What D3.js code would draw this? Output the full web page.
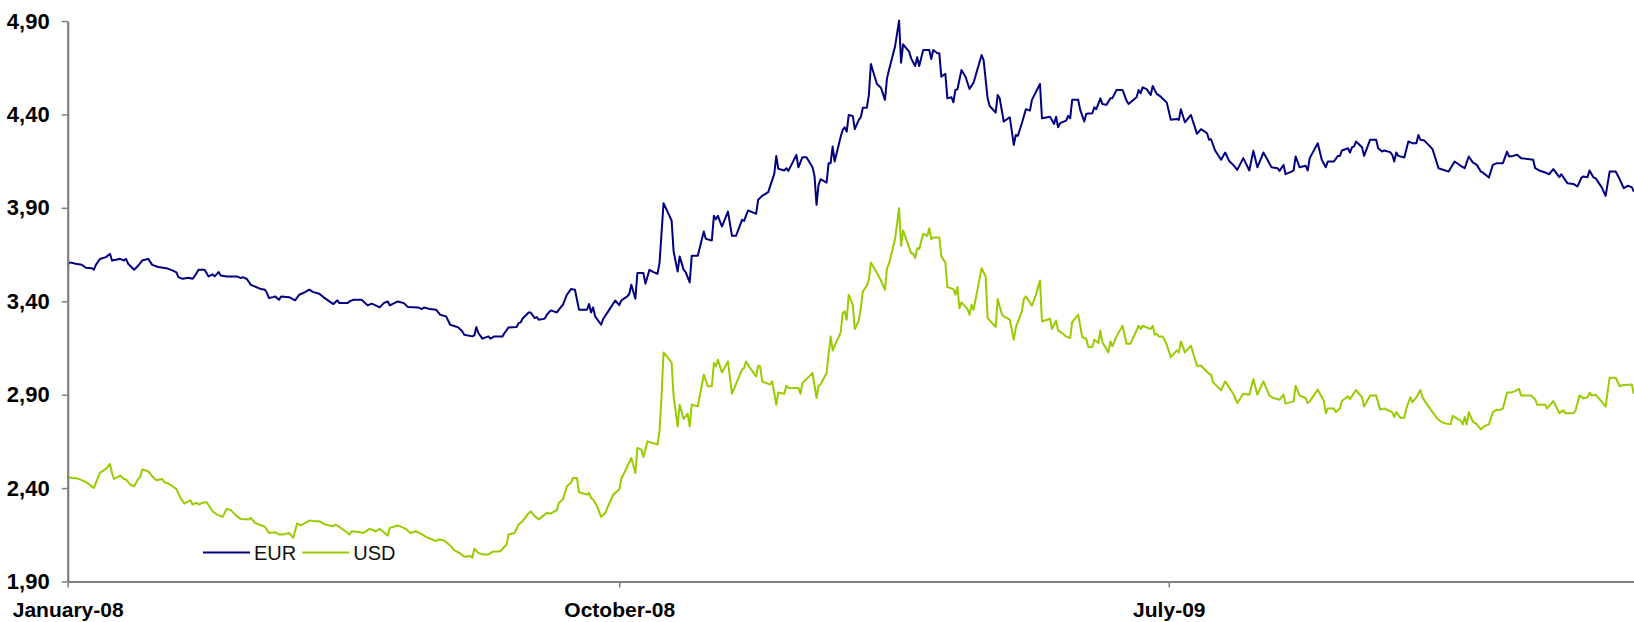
<!DOCTYPE html>
<html><head><meta charset="utf-8">
<script src="https://cdn.jsdelivr.net/npm/d3@7"></script>
<style>body{margin:0;background:#fff;} svg{display:block;}</style>
</head><body><svg id="c" width="1634" height="622"></svg>
<script>
const eurDates = ["2008-01-01","2008-01-02","2008-01-05","2008-01-08","2008-01-10","2008-01-13","2008-01-14","2008-01-15","2008-01-17","2008-01-20","2008-01-22","2008-01-23","2008-01-25","2008-01-27","2008-01-29","2008-01-30","2008-01-31","2008-02-03","2008-02-05","2008-02-07","2008-02-10","2008-02-12","2008-02-15","2008-02-19","2008-02-22","2008-02-24","2008-02-25","2008-02-27","2008-03-01","2008-03-03","2008-03-04","2008-03-06","2008-03-09","2008-03-11","2008-03-13","2008-03-14","2008-03-16","2008-03-17","2008-03-20","2008-03-25","2008-03-27","2008-03-28","2008-03-30","2008-04-01","2008-04-06","2008-04-08","2008-04-09","2008-04-10","2008-04-12","2008-04-13","2008-04-15","2008-04-16","2008-04-20","2008-04-23","2008-04-25","2008-04-27","2008-04-30","2008-05-02","2008-05-05","2008-05-07","2008-05-10","2008-05-12","2008-05-14","2008-05-15","2008-05-19","2008-05-20","2008-05-22","2008-05-26","2008-05-29","2008-05-31","2008-06-02","2008-06-04","2008-06-06","2008-06-08","2008-06-09","2008-06-13","2008-06-16","2008-06-18","2008-06-23","2008-06-25","2008-06-26","2008-06-29","2008-07-02","2008-07-04","2008-07-07","2008-07-09","2008-07-13","2008-07-15","2008-07-16","2008-07-20","2008-07-21","2008-07-22","2008-07-23","2008-07-25","2008-07-28","2008-07-29","2008-07-31","2008-08-04","2008-08-05","2008-08-07","2008-08-11","2008-08-12","2008-08-13","2008-08-14","2008-08-17","2008-08-18","2008-08-20","2008-08-21","2008-08-22","2008-08-25","2008-08-26","2008-08-28","2008-08-31","2008-09-02","2008-09-03","2008-09-05","2008-09-07","2008-09-09","2008-09-11","2008-09-15","2008-09-16","2008-09-17","2008-09-18","2008-09-19","2008-09-22","2008-09-23","2008-09-26","2008-09-29","2008-10-01","2008-10-02","2008-10-05","2008-10-06","2008-10-07","2008-10-09","2008-10-10","2008-10-13","2008-10-14","2008-10-16","2008-10-18","2008-10-20","2008-10-21","2008-10-23","2008-10-27","2008-10-28","2008-10-30","2008-10-31","2008-11-02","2008-11-03","2008-11-05","2008-11-06","2008-11-09","2008-11-12","2008-11-13","2008-11-16","2008-11-17","2008-11-18","2008-11-19","2008-11-21","2008-11-24","2008-11-26","2008-11-28","2008-12-01","2008-12-02","2008-12-04","2008-12-08","2008-12-09","2008-12-11","2008-12-14","2008-12-17","2008-12-18","2008-12-19","2008-12-22","2008-12-23","2008-12-24","2008-12-28","2008-12-29","2008-12-31","2009-01-02","2009-01-05","2009-01-06","2009-01-07","2009-01-08","2009-01-09","2009-01-12","2009-01-13","2009-01-14","2009-01-15","2009-01-16","2009-01-19","2009-01-20","2009-01-21","2009-01-22","2009-01-23","2009-01-25","2009-01-26","2009-01-28","2009-01-29","2009-01-30","2009-02-01","2009-02-02","2009-02-03","2009-02-06","2009-02-08","2009-02-10","2009-02-11","2009-02-12","2009-02-15","2009-02-17","2009-02-18","2009-02-19","2009-02-22","2009-02-23","2009-02-25","2009-02-26","2009-02-27","2009-03-01","2009-03-04","2009-03-05","2009-03-06","2009-03-08","2009-03-09","2009-03-10","2009-03-12","2009-03-13","2009-03-15","2009-03-16","2009-03-17","2009-03-18","2009-03-20","2009-03-22","2009-03-24","2009-03-26","2009-03-30","2009-03-31","2009-04-02","2009-04-03","2009-04-06","2009-04-07","2009-04-08","2009-04-10","2009-04-13","2009-04-15","2009-04-16","2009-04-17","2009-04-19","2009-04-21","2009-04-23","2009-04-24","2009-04-28","2009-04-29","2009-05-03","2009-05-05","2009-05-06","2009-05-07","2009-05-08","2009-05-11","2009-05-12","2009-05-13","2009-05-14","2009-05-17","2009-05-18","2009-05-20","2009-05-21","2009-05-24","2009-05-25","2009-05-26","2009-05-28","2009-05-29","2009-05-31","2009-06-02","2009-06-03","2009-06-05","2009-06-08","2009-06-10","2009-06-11","2009-06-15","2009-06-16","2009-06-17","2009-06-18","2009-06-20","2009-06-22","2009-06-23","2009-06-25","2009-06-27","2009-06-30","2009-07-02","2009-07-05","2009-07-06","2009-07-07","2009-07-09","2009-07-12","2009-07-15","2009-07-17","2009-07-20","2009-07-21","2009-07-22","2009-07-24","2009-07-27","2009-07-29","2009-07-31","2009-08-02","2009-08-04","2009-08-07","2009-08-10","2009-08-12","2009-08-14","2009-08-17","2009-08-19","2009-08-21","2009-08-24","2009-08-25","2009-08-27","2009-08-28","2009-08-31","2009-09-01","2009-09-02","2009-09-04","2009-09-07","2009-09-08","2009-09-09","2009-09-13","2009-09-15","2009-09-17","2009-09-18","2009-09-21","2009-09-23","2009-09-24","2009-09-25","2009-09-28","2009-09-29","2009-09-30","2009-10-01","2009-10-02","2009-10-05","2009-10-06","2009-10-09","2009-10-12","2009-10-13","2009-10-15","2009-10-16","2009-10-19","2009-10-20","2009-10-21","2009-10-22","2009-10-23","2009-10-26","2009-10-28","2009-10-30","2009-11-01","2009-11-02","2009-11-03","2009-11-05","2009-11-07","2009-11-09","2009-11-12","2009-11-17","2009-11-20","2009-11-23","2009-11-25","2009-11-27","2009-11-29","2009-12-01","2009-12-03","2009-12-04","2009-12-07","2009-12-09","2009-12-11","2009-12-14","2009-12-16","2009-12-17","2009-12-19","2009-12-21","2009-12-23","2009-12-29","2009-12-30","2010-01-01","2010-01-04","2010-01-06","2010-01-08","2010-01-11","2010-01-12","2010-01-15","2010-01-18","2010-01-20","2010-01-22","2010-01-23","2010-01-25","2010-01-26","2010-01-28","2010-01-29","2010-02-01","2010-02-03","2010-02-05","2010-02-08","2010-02-10","2010-02-12","2010-02-14","2010-02-16","2010-02-17"];
const eurValues = [3.595,3.608,3.601,3.595,3.579,3.577,3.569,3.595,3.626,3.636,3.654,3.618,3.622,3.627,3.618,3.627,3.601,3.569,3.590,3.618,3.627,3.595,3.583,3.577,3.565,3.554,3.529,3.520,3.526,3.520,3.533,3.569,3.569,3.533,3.544,3.533,3.556,3.538,3.533,3.533,3.524,3.529,3.519,3.488,3.465,3.462,3.444,3.417,3.422,3.426,3.408,3.426,3.422,3.405,3.435,3.444,3.462,3.449,3.440,3.422,3.399,3.385,3.405,3.390,3.390,3.399,3.408,3.408,3.378,3.387,3.378,3.367,3.390,3.399,3.378,3.399,3.390,3.369,3.367,3.358,3.367,3.358,3.355,3.328,3.319,3.274,3.260,3.239,3.221,3.212,3.217,3.262,3.230,3.200,3.212,3.200,3.212,3.212,3.230,3.260,3.262,3.283,3.287,3.308,3.340,3.340,3.310,3.315,3.301,3.307,3.328,3.351,3.340,3.369,3.381,3.435,3.465,3.462,3.355,3.355,3.385,3.340,3.367,3.319,3.274,3.305,3.354,3.404,3.379,3.404,3.426,3.440,3.488,3.413,3.551,3.551,3.494,3.568,3.556,3.547,3.604,3.925,3.832,3.667,3.559,3.640,3.568,3.556,3.501,3.643,3.643,3.773,3.734,3.725,3.857,3.839,3.857,3.800,3.880,3.750,3.750,3.836,3.830,3.886,3.868,3.943,3.964,3.984,4.082,4.178,4.109,4.100,4.112,4.098,4.183,4.117,4.171,4.171,4.117,4.071,3.916,4.023,4.053,4.035,4.139,4.139,4.228,4.148,4.281,4.317,4.331,4.308,4.397,4.392,4.322,4.371,4.385,4.436,4.436,4.504,4.670,4.563,4.543,4.478,4.593,4.638,4.763,4.902,4.677,4.775,4.736,4.700,4.659,4.706,4.659,4.745,4.745,4.697,4.745,4.727,4.727,4.602,4.617,4.486,4.492,4.465,4.531,4.535,4.638,4.602,4.536,4.570,4.718,4.691,4.486,4.445,4.410,4.504,4.486,4.362,4.385,4.237,4.290,4.285,4.353,4.428,4.420,4.478,4.563,4.379,4.388,4.349,4.388,4.331,4.353,4.367,4.392,4.379,4.478,4.478,4.424,4.362,4.403,4.406,4.438,4.428,4.486,4.456,4.451,4.486,4.487,4.531,4.531,4.474,4.456,4.492,4.531,4.513,4.545,4.535,4.504,4.552,4.510,4.495,4.463,4.371,4.376,4.371,4.428,4.358,4.397,4.296,4.321,4.299,4.264,4.267,4.207,4.157,4.196,4.151,4.130,4.103,4.166,4.100,4.205,4.117,4.196,4.157,4.117,4.112,4.098,4.130,4.080,4.094,4.100,4.175,4.117,4.125,4.100,4.166,4.246,4.157,4.117,4.148,4.148,4.178,4.178,4.207,4.219,4.196,4.224,4.228,4.255,4.224,4.178,4.264,4.264,4.219,4.201,4.207,4.198,4.184,4.148,4.196,4.178,4.169,4.255,4.246,4.246,4.290,4.264,4.260,4.237,4.214,4.112,4.094,4.148,4.125,4.112,4.175,4.143,4.130,4.094,4.089,4.062,4.130,4.139,4.139,4.201,4.175,4.178,4.184,4.166,4.157,4.112,4.100,4.089,4.080,4.107,4.064,4.080,4.032,4.028,4.014,4.062,4.068,4.064,4.100,4.062,4.059,4.011,3.964,4.094,4.094,4.053,4.005,4.018,4.011,3.987];

const usdDates = ["2008-01-01","2008-01-03","2008-01-06","2008-01-10","2008-01-14","2008-01-16","2008-01-17","2008-01-20","2008-01-22","2008-01-23","2008-01-24","2008-01-26","2008-01-27","2008-01-29","2008-01-30","2008-02-01","2008-02-03","2008-02-05","2008-02-06","2008-02-07","2008-02-10","2008-02-12","2008-02-14","2008-02-17","2008-02-18","2008-02-20","2008-02-22","2008-02-24","2008-02-26","2008-02-28","2008-03-02","2008-03-03","2008-03-05","2008-03-06","2008-03-08","2008-03-10","2008-03-13","2008-03-15","2008-03-18","2008-03-20","2008-03-22","2008-03-25","2008-03-27","2008-03-31","2008-04-01","2008-04-03","2008-04-06","2008-04-08","2008-04-10","2008-04-13","2008-04-15","2008-04-17","2008-04-20","2008-04-22","2008-04-24","2008-04-26","2008-04-28","2008-04-30","2008-05-03","2008-05-05","2008-05-08","2008-05-10","2008-05-12","2008-05-13","2008-05-15","2008-05-18","2008-05-20","2008-05-21","2008-05-24","2008-05-27","2008-05-30","2008-06-02","2008-06-04","2008-06-06","2008-06-08","2008-06-09","2008-06-13","2008-06-17","2008-06-19","2008-06-22","2008-06-25","2008-06-27","2008-06-30","2008-07-02","2008-07-03","2008-07-06","2008-07-09","2008-07-11","2008-07-14","2008-07-16","2008-07-19","2008-07-20","2008-07-21","2008-07-23","2008-07-25","2008-07-28","2008-07-30","2008-08-03","2008-08-04","2008-08-06","2008-08-07","2008-08-10","2008-08-12","2008-08-14","2008-08-16","2008-08-18","2008-08-20","2008-08-22","2008-08-24","2008-08-26","2008-08-28","2008-08-31","2008-09-01","2008-09-03","2008-09-05","2008-09-07","2008-09-08","2008-09-10","2008-09-11","2008-09-15","2008-09-16","2008-09-17","2008-09-18","2008-09-20","2008-09-22","2008-09-24","2008-09-28","2008-10-01","2008-10-02","2008-10-07","2008-10-09","2008-10-10","2008-10-12","2008-10-13","2008-10-15","2008-10-20","2008-10-21","2008-10-22","2008-10-23","2008-10-27","2008-10-28","2008-10-30","2008-10-31","2008-11-02","2008-11-04","2008-11-05","2008-11-06","2008-11-09","2008-11-12","2008-11-14","2008-11-16","2008-11-17","2008-11-18","2008-11-19","2008-11-21","2008-11-24","2008-11-26","2008-12-01","2008-12-02","2008-12-03","2008-12-05","2008-12-08","2008-12-09","2008-12-10","2008-12-11","2008-12-15","2008-12-16","2008-12-18","2008-12-19","2008-12-22","2008-12-23","2008-12-24","2008-12-29","2008-12-30","2008-12-31","2009-01-03","2009-01-05","2009-01-07","2009-01-08","2009-01-09","2009-01-12","2009-01-13","2009-01-14","2009-01-15","2009-01-19","2009-01-20","2009-01-21","2009-01-22","2009-01-23","2009-01-25","2009-01-26","2009-01-28","2009-01-29","2009-01-30","2009-02-01","2009-02-02","2009-02-03","2009-02-06","2009-02-08","2009-02-10","2009-02-11","2009-02-12","2009-02-15","2009-02-17","2009-02-18","2009-02-19","2009-02-23","2009-02-24","2009-02-25","2009-02-26","2009-02-27","2009-03-01","2009-03-03","2009-03-04","2009-03-05","2009-03-06","2009-03-09","2009-03-10","2009-03-12","2009-03-13","2009-03-16","2009-03-17","2009-03-18","2009-03-19","2009-03-20","2009-03-23","2009-03-24","2009-03-25","2009-03-26","2009-03-30","2009-04-01","2009-04-02","2009-04-06","2009-04-07","2009-04-09","2009-04-10","2009-04-13","2009-04-15","2009-04-16","2009-04-19","2009-04-20","2009-04-21","2009-04-24","2009-04-26","2009-04-28","2009-04-29","2009-05-03","2009-05-04","2009-05-06","2009-05-07","2009-05-10","2009-05-11","2009-05-13","2009-05-14","2009-05-17","2009-05-19","2009-05-21","2009-05-22","2009-05-24","2009-05-25","2009-05-27","2009-05-28","2009-05-29","2009-06-01","2009-06-02","2009-06-03","2009-06-05","2009-06-08","2009-06-10","2009-06-12","2009-06-16","2009-06-17","2009-06-18","2009-06-22","2009-06-23","2009-06-24","2009-06-25","2009-06-26","2009-06-28","2009-06-30","2009-07-02","2009-07-05","2009-07-06","2009-07-07","2009-07-09","2009-07-12","2009-07-15","2009-07-17","2009-07-21","2009-07-22","2009-07-23","2009-07-27","2009-07-29","2009-08-02","2009-08-04","2009-08-07","2009-08-10","2009-08-12","2009-08-14","2009-08-17","2009-08-20","2009-08-22","2009-08-25","2009-08-27","2009-08-28","2009-09-01","2009-09-02","2009-09-04","2009-09-07","2009-09-08","2009-09-09","2009-09-13","2009-09-16","2009-09-17","2009-09-18","2009-09-21","2009-09-22","2009-09-24","2009-09-25","2009-09-28","2009-09-29","2009-10-02","2009-10-05","2009-10-06","2009-10-09","2009-10-12","2009-10-14","2009-10-16","2009-10-20","2009-10-21","2009-10-22","2009-10-24","2009-10-26","2009-10-27","2009-10-29","2009-10-30","2009-11-01","2009-11-03","2009-11-04","2009-11-06","2009-11-11","2009-11-13","2009-11-15","2009-11-18","2009-11-19","2009-11-23","2009-11-24","2009-11-25","2009-11-26","2009-11-27","2009-11-29","2009-12-01","2009-12-03","2009-12-05","2009-12-07","2009-12-09","2009-12-11","2009-12-12","2009-12-14","2009-12-16","2009-12-18","2009-12-20","2009-12-22","2009-12-23","2009-12-28","2009-12-30","2009-12-31","2010-01-04","2010-01-05","2010-01-08","2010-01-11","2010-01-13","2010-01-14","2010-01-18","2010-01-19","2010-01-21","2010-01-23","2010-01-25","2010-01-26","2010-01-27","2010-01-29","2010-01-31","2010-02-03","2010-02-05","2010-02-08","2010-02-10","2010-02-11","2010-02-16","2010-02-17"];
const usdValues = [2.460,2.454,2.451,2.433,2.401,2.454,2.481,2.503,2.529,2.481,2.449,2.460,2.467,2.449,2.446,2.419,2.410,2.449,2.460,2.499,2.490,2.463,2.442,2.449,2.431,2.424,2.410,2.396,2.348,2.317,2.335,2.312,2.321,2.312,2.321,2.324,2.276,2.259,2.246,2.289,2.282,2.250,2.235,2.232,2.241,2.214,2.201,2.192,2.160,2.164,2.152,2.152,2.160,2.134,2.210,2.201,2.214,2.226,2.223,2.223,2.205,2.200,2.196,2.205,2.192,2.169,2.152,2.169,2.166,2.160,2.182,2.169,2.182,2.164,2.146,2.187,2.200,2.182,2.160,2.169,2.152,2.139,2.125,2.116,2.125,2.119,2.093,2.068,2.050,2.032,2.036,2.027,2.075,2.053,2.045,2.045,2.059,2.062,2.075,2.098,2.152,2.160,2.205,2.223,2.253,2.276,2.250,2.232,2.250,2.267,2.264,2.282,2.321,2.339,2.410,2.428,2.454,2.454,2.378,2.365,2.374,2.347,2.339,2.303,2.246,2.267,2.365,2.392,2.449,2.561,2.481,2.615,2.606,2.567,2.650,2.633,2.704,2.891,3.126,3.073,2.891,2.730,2.846,2.770,2.798,2.730,2.846,2.838,3.007,2.945,2.945,3.069,3.051,3.087,3.019,3.078,2.905,3.034,3.042,3.078,3.042,2.998,3.055,3.051,2.971,2.954,2.971,2.846,2.912,2.905,2.948,2.936,2.936,2.905,2.962,2.994,3.016,2.882,2.948,2.954,3.016,3.119,3.212,3.137,3.233,3.337,3.346,3.301,3.435,3.381,3.251,3.297,3.363,3.453,3.483,3.518,3.608,3.551,3.511,3.461,3.577,3.601,3.732,3.898,3.697,3.779,3.658,3.654,3.631,3.684,3.679,3.761,3.750,3.791,3.732,3.741,3.741,3.640,3.608,3.476,3.465,3.435,3.476,3.363,3.394,3.358,3.328,3.381,3.354,3.577,3.533,3.310,3.262,3.412,3.333,3.319,3.301,3.194,3.260,3.346,3.412,3.426,3.376,3.435,3.511,3.292,3.306,3.251,3.297,3.244,3.221,3.212,3.203,3.289,3.328,3.208,3.198,3.155,3.155,3.194,3.176,3.244,3.180,3.126,3.185,3.159,3.212,3.269,3.173,3.173,3.269,3.251,3.269,3.251,3.269,3.221,3.226,3.212,3.212,3.167,3.101,3.137,3.126,3.185,3.126,3.162,3.055,3.055,3.012,3.007,2.966,2.923,2.971,2.905,2.855,2.905,2.900,2.984,2.900,2.971,2.895,2.882,2.873,2.900,2.852,2.864,2.948,2.895,2.882,2.855,2.864,2.927,2.866,2.801,2.826,2.826,2.807,2.826,2.866,2.892,2.876,2.925,2.886,2.836,2.896,2.896,2.820,2.826,2.807,2.781,2.807,2.777,2.777,2.826,2.886,2.860,2.886,2.925,2.886,2.852,2.777,2.757,2.747,2.741,2.787,2.761,2.741,2.781,2.741,2.807,2.757,2.741,2.714,2.733,2.741,2.807,2.820,2.816,2.826,2.911,2.911,2.919,2.931,2.896,2.896,2.876,2.846,2.846,2.826,2.866,2.801,2.816,2.801,2.801,2.812,2.896,2.880,2.886,2.911,2.896,2.900,2.876,2.836,2.991,2.991,2.945,2.951,2.955,2.905];

const seriesNames = ["EUR", "USD"];
const seriesColors = ["#000080", "#99CC00"];
const xTickDates = ["2008-01-01", "2008-10-01", "2009-07-01"];
const yTickValues = [1.90, 2.40, 2.90, 3.40, 3.90, 4.40, 4.90];
const xDomain = ["2008-01-01", "2010-02-17"];

const parse = d3.utcParse("%Y-%m-%d");
const svg = d3.select("#c");
const W = 1634, H = 622;
const m = {left: 67.7, right: 0.2, top: 21, bottom: 40.5};

const x = d3.scaleUtc().domain(xDomain.map(parse)).range([m.left, W - m.right]);
const y = d3.scaleLinear().domain([1.9, 4.9]).range([H - m.bottom, m.top]);

const series = [
  {name: seriesNames[0], color: seriesColors[0], pts: eurDates.map((d, i) => [parse(d), eurValues[i]])},
  {name: seriesNames[1], color: seriesColors[1], pts: usdDates.map((d, i) => [parse(d), usdValues[i]])}
];

const line = d3.line().x(d => x(d[0])).y(d => y(d[1]));

svg.selectAll("path.series").data(series).enter().append("path")
  .attr("class", "series")
  .attr("fill", "none")
  .attr("stroke", d => d.color)
  .attr("stroke-width", 2)
  .attr("stroke-linejoin", "round")
  .attr("d", d => line(d.pts));

const axisColor = "#808080";
const fontFam = "'Liberation Sans', Arial, sans-serif";

// Y axis
const gy = svg.append("g").attr("transform", `translate(${m.left},0)`)
  .call(d3.axisLeft(y).tickValues(yTickValues).tickSize(6).tickSizeOuter(0).tickPadding(12)
    .tickFormat(d => d.toFixed(2).replace(".", ",")));
gy.select(".domain").attr("stroke", axisColor).attr("stroke-width", 2.2);
gy.selectAll(".tick line").attr("stroke", axisColor).attr("stroke-width", 1.5);
gy.selectAll(".tick text").attr("fill", "#000").style("font-family", fontFam)
  .style("font-size", "22px").style("font-weight", "bold");

// X axis
const gx = svg.append("g").attr("transform", `translate(0,${H - m.bottom})`)
  .call(d3.axisBottom(x).tickValues(xTickDates.map(parse)).tickSize(6).tickSizeOuter(0)
    .tickFormat(d3.utcFormat("%B-%y")));
gx.select(".domain").attr("stroke", axisColor).attr("stroke-width", 2.2);
gx.selectAll(".tick line").attr("stroke", axisColor).attr("stroke-width", 1.5);
gx.selectAll(".tick text").attr("fill", "#000").attr("y", 35).attr("dy", 0)
  .style("font-family", fontFam).style("font-size", "21px").style("font-weight", "bold");

// Legend
const lg = svg.append("g").attr("transform", "translate(203,552.5)");
let lx = 0;
series.forEach(s => {
  lg.append("line").attr("x1", lx).attr("x2", lx + 47).attr("y1", 0).attr("y2", 0)
    .attr("stroke", s.color).attr("stroke-width", 2);
  const t = lg.append("text").attr("x", lx + 51).attr("y", 7.5).text(s.name)
    .attr("fill", "#111").style("font-family", fontFam).style("font-size", "20px");
  lx += 51 + t.node().getComputedTextLength() + 6;
});
</script>
</body></html>
